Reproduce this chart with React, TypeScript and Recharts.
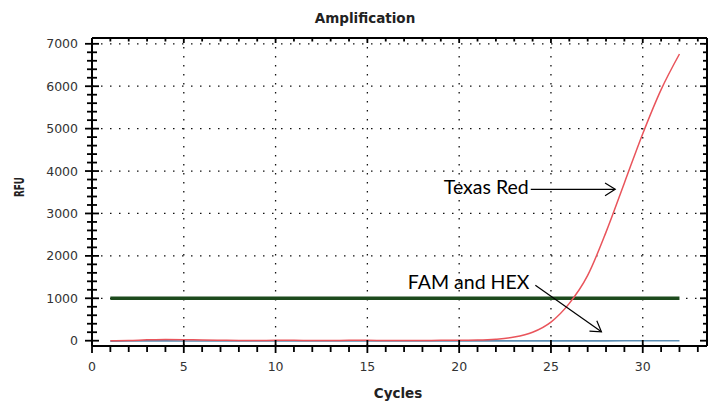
import { LineChart, Line, XAxis, YAxis, CartesianGrid, ReferenceLine, Label } from 'recharts';

// amplification run, RFU per cycle
const cycles = [1, 2, 3, 4, 5, 6, 7, 8, 9, 10, 11, 12, 13, 14, 15, 16, 17, 18, 19, 20, 21, 22, 23, 24, 25, 26, 27, 28, 29, 30, 31, 32];
const texasRed = [0, 5, 20, 30, 25, 15, 10, 5, 5, 10, 10, 5, 5, 10, 10, 5, 5, 5, 10, 10, 15, 35, 85, 200, 440, 880, 1540, 2560, 3720, 4880, 5920, 6760];
const famHex = [-10, -8, -5, -5, -6, -6, -5, -5, -6, -5, -4, -5, -5, -5, -4, -4, -5, -4, -4, -4, -4, -4, -4, -3, -3, -3, -3, -3, -2, -2, -2, -2];

const threshold = 1000;
const thresholdFrom = 1;
const thresholdTo = 32;

const xTicks = [0, 1, 2, 3, 4, 5, 6, 7, 8, 9, 10, 11, 12, 13, 14, 15, 16, 17, 18, 19, 20, 21, 22, 23, 24, 25, 26, 27, 28, 29, 30, 31, 32, 33];
const xMajor = [0, 5, 10, 15, 20, 25, 30];
const yTicks = [0, 200, 400, 600, 800, 1000, 1200, 1400, 1600, 1800, 2000, 2200, 2400, 2600, 2800, 3000, 3200, 3400, 3600, 3800, 4000, 4200, 4400, 4600, 4800, 5000, 5200, 5400, 5600, 5800, 6000, 6200, 6400, 6600, 6800, 7000];
const yMajor = [0, 1000, 2000, 3000, 4000, 5000, 6000, 7000];

const xDomain = [0, 33.5];
const yDomain = [-125, 7137];

const texasRedArrow = [{ x: 23.9, y: 3570 }, { x: 28.5, y: 3570 }];
const famHexArrow = [{ x: 24.15, y: 1310 }, { x: 27.75, y: 210 }];

const data = cycles.map((c, i) => ({ cycle: c, texasRed: texasRed[i], famHex: famHex[i] }));

const tickFont = { fontFamily: 'DejaVu Sans', fontSize: 12.5, fill: '#333' };
const boldFont = { fontFamily: 'DejaVu Sans', fontWeight: 'bold' as const, fill: '#222' };

// axis labels only; the tick marks themselves are drawn by the ruler marks below
function BottomLabel(props: any) {
  const { x, y, payload } = props;
  if (!xMajor.includes(payload.value)) return <g />;
  return <text x={x} y={y + 25} textAnchor="middle" {...tickFont}>{payload.value}</text>;
}

function LeftLabel(props: any) {
  const { x, y, payload } = props;
  if (!yMajor.includes(payload.value)) return <g />;
  return <text x={x - 14} y={y} dy="0.36em" textAnchor="end" {...tickFont}>{payload.value}</text>;
}

// ruler marks on the left and right edges for one y value
const yMark = (v: number) => (p: any) => {
  const major = yMajor.includes(v);
  const l = Math.min(p.x1, p.x2);
  const r = Math.max(p.x1, p.x2);
  const y = p.y1;
  return (
    <g>
      <line x1={l - (major ? 7 : 5)} x2={l + (major ? 7 : 5)} y1={y} y2={y} stroke="#000" strokeWidth={1.8} />
      <line x1={r - (major ? 7 : 4)} x2={r} y1={y} y2={y} stroke="#000" strokeWidth={1.8} />
    </g>
  );
};

// ruler marks on the bottom and top edges for one x value
const xMark = (v: number) => (p: any) => {
  const major = xMajor.includes(v);
  const t = Math.min(p.y1, p.y2);
  const b = Math.max(p.y1, p.y2);
  const x = p.x1;
  return (
    <g>
      <line x1={x} x2={x} y1={major ? b - 6 : b} y2={b + (major ? 7 : 6)} stroke="#000" strokeWidth={1.8} />
      <line x1={x} x2={x} y1={t} y2={t + (major ? 5 : 3.5)} stroke="#000" strokeWidth={1.8} />
    </g>
  );
};

function arrowShape(text: string, dx: number, dy: number) {
  return (p: any) => {
    const { x1, y1, x2, y2 } = p;
    const ang = Math.atan2(y2 - y1, x2 - x1);
    const len = 12;
    const spread = 0.56;
    const a1 = ang + Math.PI - spread;
    const a2 = ang + Math.PI + spread;
    const head = `${x2 + len * Math.cos(a1)},${y2 + len * Math.sin(a1)} ${x2},${y2} ${x2 + len * Math.cos(a2)},${y2 + len * Math.sin(a2)}`;
    return (
      <g>
        <line x1={x1} y1={y1} x2={x2} y2={y2} stroke="#000" strokeWidth={1.2} />
        <polyline points={head} fill="none" stroke="#000" strokeWidth={1.2} />
        <text x={x1 + dx} y={y1 + dy} textAnchor="end" fontFamily="Lato" fontSize={19.5} fill="#000">{text}</text>
      </g>
    );
  };
}

export default function App() {
  return (
    <div style={{ position: 'absolute', left: 0, top: 0, width: 717, height: 403, background: '#fff' }}>
      <LineChart width={717} height={403} data={data} margin={{ top: 0, right: 0, bottom: 0, left: 32 }}>
        <CartesianGrid
          horizontalValues={yMajor.filter(v => v > 0)}
          verticalValues={xMajor.filter(v => v > 0)}
          stroke="#111"
          strokeWidth={1.3}
          strokeDasharray="1.5 7.5"
        />
        <XAxis
          dataKey="cycle"
          type="number"
          domain={xDomain}
          allowDataOverflow
          ticks={xTicks}
          interval={0}
          tickSize={0}
          tickMargin={0}
          tick={BottomLabel}
          tickLine={false}
          axisLine={{ stroke: '#000', strokeWidth: 2 }}
          height={57}
        >
          <Label
            content={(p: any) => (
              <text x={p.viewBox.x + 306} y={p.viewBox.y + 52} textAnchor="middle" fontSize={13.5} {...boldFont}>Cycles</text>
            )}
          />
        </XAxis>
        <XAxis
          xAxisId="top"
          orientation="top"
          dataKey="cycle"
          type="number"
          domain={xDomain}
          allowDataOverflow
          tick={false}
          tickLine={false}
          axisLine={{ stroke: '#000', strokeWidth: 2 }}
          height={38}
        >
          <Label
            content={(p: any) => (
              <text x={p.viewBox.x + 273} y={23} textAnchor="middle" fontSize={13.5} {...boldFont}>Amplification</text>
            )}
          />
        </XAxis>
        <YAxis
          type="number"
          domain={yDomain}
          allowDataOverflow
          ticks={yTicks}
          interval={0}
          tickSize={0}
          tickMargin={0}
          tick={LeftLabel}
          tickLine={false}
          axisLine={{ stroke: '#000', strokeWidth: 2 }}
          width={60}
        >
          <Label
            content={() => (
              <text x={24} y={187} transform="rotate(-90 24 187)" textAnchor="middle" fontSize={14} textLength={20} lengthAdjust="spacingAndGlyphs" {...boldFont}>RFU</text>
            )}
          />
        </YAxis>
        <YAxis
          yAxisId="right"
          orientation="right"
          type="number"
          domain={yDomain}
          allowDataOverflow
          tick={false}
          tickLine={false}
          axisLine={{ stroke: '#000', strokeWidth: 2 }}
          width={10}
        />
        <ReferenceLine
          segment={[{ x: thresholdFrom, y: threshold }, { x: thresholdTo, y: threshold }]}
          stroke="#1d4a1d"
          strokeWidth={3.5}
        />
        <Line type="linear" dataKey="famHex" stroke="#5b8db3" strokeWidth={1.6} dot={false} isAnimationActive={false} />
        <Line type="monotone" dataKey="texasRed" stroke="#e9545b" strokeWidth={1.5} dot={false} isAnimationActive={false} />
        {yTicks.map(v => (
          <ReferenceLine key={`ym${v}`} y={v} shape={yMark(v)} />
        ))}
        {xTicks.map(v => (
          <ReferenceLine key={`xm${v}`} x={v} shape={xMark(v)} />
        ))}
        <ReferenceLine segment={texasRedArrow} shape={arrowShape('Texas Red', -2, 5)} />
        <ReferenceLine segment={famHexArrow} shape={arrowShape('FAM and HEX', -6, 4)} />
      </LineChart>
    </div>
  );
}
